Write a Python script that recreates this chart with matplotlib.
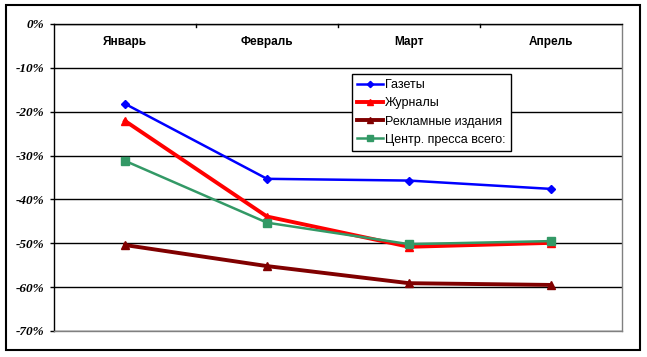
import matplotlib
matplotlib.use("Agg")
import matplotlib.pyplot as plt
from matplotlib.patches import Rectangle
from matplotlib.ticker import FuncFormatter

categories = ["Январь", "Февраль", "Март", "Апрель"]
gazety = [-18.2, -35.3, -35.7, -37.6]
zhurnaly = [-22.1, -43.9, -50.8, -49.9]
reklamnye = [-50.4, -55.2, -59.1, -59.5]
centr = [-31.2, -45.3, -50.2, -49.5]
series_names = ["Газеты", "Журналы", "Рекламные издания", "Центр. пресса всего:"]
yticks = [0, -10, -20, -30, -40, -50, -60, -70]

W, H = 647, 357
fig = plt.figure(figsize=(W / 100, H / 100), dpi=100)
fig.patch.set_facecolor("white")
fig.patches.append(Rectangle((6 / W, 1 - 350 / H), (640 - 6) / W, (350 - 5) / H,
                             transform=fig.transFigure, fill=False,
                             edgecolor="black", linewidth=1.5))

ax = fig.add_axes([54 / W, 1 - 331 / H, (622 - 54) / W, (331 - 24) / H])
x = list(range(len(categories)))

ax.plot(x, gazety, color="#0000FF", lw=1.8, marker="D", ms=4, label=series_names[0], zorder=3)
ax.plot(x, zhurnaly, color="#FF0000", lw=2.8, marker="^", ms=6, label=series_names[1], zorder=4)
ax.plot(x, reklamnye, color="#800000", lw=2.8, marker="^", ms=6, label=series_names[2], zorder=5)
ax.plot(x, centr, color="#339966", lw=1.8, marker="s", ms=6, label=series_names[3], zorder=6)

ax.set_xlim(-0.5, len(categories) - 0.5)
ax.set_ylim(-70, 0)
ax.set_yticks(yticks)
ax.yaxis.set_major_formatter(FuncFormatter(lambda v, p: f"{int(round(v))}%"))
for t in ax.get_yticklabels():
    t.set_fontfamily("Liberation Serif")
    t.set_fontweight("bold")
    t.set_fontstyle("italic")
    t.set_fontsize(9.5)
ax.tick_params(axis="y", direction="out", length=3, width=1, color="black", pad=4)
ax.grid(axis="y", color="black", lw=1)
ax.set_axisbelow(True)

# category axis at 0%
ax.set_xticks([])
for xb in [0.5, 1.5, 2.5]:
    ax.plot([xb, xb], [0, -0.7], color="black", lw=1, clip_on=False, zorder=2)
for i, c in enumerate(categories):
    ax.text(i, -4.2, c, ha="center", va="center", fontsize=8.5, fontweight="bold",
            family="Liberation Sans")

ax.spines["top"].set_color("black")
ax.spines["left"].set_color("black")
ax.spines["right"].set_color("#808080")
ax.spines["bottom"].set_color("#808080")
for s in ax.spines.values():
    s.set_linewidth(1)

leg = ax.legend(loc="upper left", bbox_to_anchor=(0.5246, 0.837), borderaxespad=0,
                frameon=True, fancybox=False, shadow=False, framealpha=1,
                edgecolor="black", prop={"family": "Liberation Sans", "size": 9},
                handlelength=2.1, handletextpad=0.15, labelspacing=0.5,
                borderpad=0.4, markerscale=0.8)
leg.get_frame().set_linewidth(1)
leg.set_zorder(10)

fig.savefig("out.png", dpi=100, facecolor="white")
